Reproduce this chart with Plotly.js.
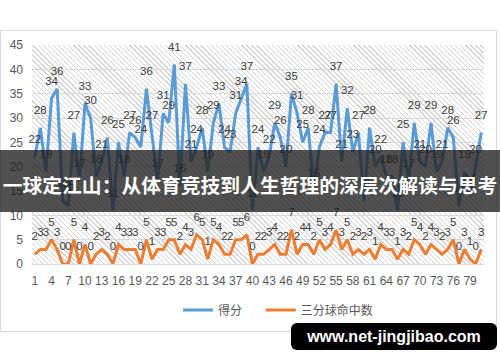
<!DOCTYPE html>
<html>
<head>
<meta charset="utf-8">
<script src="https://cdn.plot.ly/plotly-3.0.1.min.js"></script>
<style>
  html, body { margin: 0; padding: 0; background: #ffffff; width: 500px; height: 362px; overflow: hidden; position: relative; }
  #frame { position: absolute; left: 0; top: 30px; width: 497px; height: 302px; border: 1px solid #d9d9d9; box-sizing: border-box; }
  #hatch { position: absolute; left: 32px; top: 45px; width: 452px; height: 219px;
    background: repeating-linear-gradient(45deg, #d3d3d3 0px, #d3d3d3 1px, #ffffff 1px, #ffffff 3.6px); }
  #chart { position: absolute; left: 0; top: 30px; width: 498px; height: 302px; }
  #band { position: absolute; left: 0; top: 150px; width: 500px; height: 62px; background: rgba(32,32,32,0.78); }
  #bandText { position: absolute; left: -30px; top: 150px; width: 560px; height: 62px; line-height: 70px; text-align: center;
    color: #ffffff; font-family: "Noto Sans CJK SC", sans-serif; font-weight: bold; font-size: 19.8px; white-space: nowrap; }
  #wm { position: absolute; left: 291px; top: 323px; width: 206px; height: 27px; background: #000000; border-radius: 6px;
    color: #ffffff; font-family: "Liberation Sans", Arial, sans-serif; font-weight: bold; font-size: 16px; line-height: 27px; text-align: center; }
</style>
</head>
<body>
<div id="frame"></div>
<div id="hatch"></div>
<div id="chart"></div>
<div id="band"></div>
<div id="bandText">一球定江山：从体育竞技到人生哲理的深层次解读与思考</div>
<div id="wm">www.net-jingjibao.com</div>
<script>
const games = [1,2,3,4,5,6,7,8,9,10,11,12,13,14,15,16,17,18,19,20,
  21,22,23,24,25,26,27,28,29,30,31,32,33,34,35,36,37,38,39,40,
  41,42,43,44,45,46,47,48,49,50,51,52,53,54,55,56,57,58,59,60,
  61,62,63,64,65,66,67,68,69,70,71,72,73,74,75,76,77,78,79,80,81];
const points = [22,28,19,34,36,13,12,27,17,33,30,18,21,26,11,25,18,27,26,24,
  36,27,17,31,29,41,16,37,21,24,28,19,29,33,24,23,31,34,37,11,
  24,19,22,29,26,20,35,31,25,28,15,24,27,27,37,21,32,23,27,13,
  28,20,22,18,18,11,25,17,29,21,20,29,19,21,28,26,12,19,14,20,27];
const threes = [2,3,3,5,3,0,0,5,0,4,0,2,3,2,0,4,3,3,3,0,
  5,1,3,3,5,5,2,4,3,6,5,1,5,4,2,2,5,5,6,0,
  2,2,3,4,2,2,7,2,4,4,2,5,3,4,7,3,5,2,3,2,
  3,1,4,3,3,1,3,2,5,4,2,4,3,2,3,5,0,3,1,0,3];
const seriesNames = ['得分', '三分球命中数'];
const seriesColors = ['#5b9bd5', '#ed7d31'];

const labelFont = {family: 'Liberation Sans, Arial, sans-serif', size: 11.5, color: '#404040'};
const tickFont = {family: 'Liberation Sans, Arial, sans-serif', size: 12, color: '#595959'};
const legendFont = {family: 'Noto Sans CJK SC, sans-serif', size: 12, color: '#595959'};

function mk(vals, i, legendId) {
  return {
    x: games, y: vals, name: seriesNames[i], type: 'scatter', legend: legendId,
    mode: 'lines+markers+text',
    line: {color: seriesColors[i], width: 3},
    marker: {size: 16, color: 'rgba(0,0,0,0)'},
    text: vals.map(String), textposition: 'top center',
    textfont: labelFont, cliponaxis: false, hoverinfo: 'skip'
  };
}

const data = [mk(points, 0, 'legend'), mk(threes, 1, 'legend2')];

const layout = {
  width: 498, height: 302,
  margin: {l: 32, r: 14, t: 15, b: 68, autoexpand: false},
  paper_bgcolor: 'rgba(0,0,0,0)', plot_bgcolor: 'rgba(0,0,0,0)',
  showlegend: true,
  legend: {orientation: 'h', x: 0.323, xanchor: 'left', yref: 'container', y: 0.073, yanchor: 'middle',
    font: legendFont, bgcolor: 'rgba(0,0,0,0)'},
  legend2: {orientation: 'h', x: 0.506, xanchor: 'left', yref: 'container', y: 0.073, yanchor: 'middle',
    font: legendFont, bgcolor: 'rgba(0,0,0,0)'},
  xaxis: {range: [0.5, 81.5], tick0: 1, dtick: 3, tickmode: 'linear', showgrid: false, zeroline: false, automargin: false,
    showline: true, linecolor: '#d9d9d9', ticks: '', ticklabelstandoff: 6, tickfont: tickFont},
  yaxis: {range: [0, 45], dtick: 5, tick0: 0, showgrid: true, gridcolor: '#d9d9d9', zeroline: false, automargin: false,
    showline: false, ticks: '', ticklabelstandoff: 8, tickfont: tickFont}
};

Plotly.newPlot('chart', data, layout, {displayModeBar: false, staticPlot: true});
</script>
</body>
</html>
